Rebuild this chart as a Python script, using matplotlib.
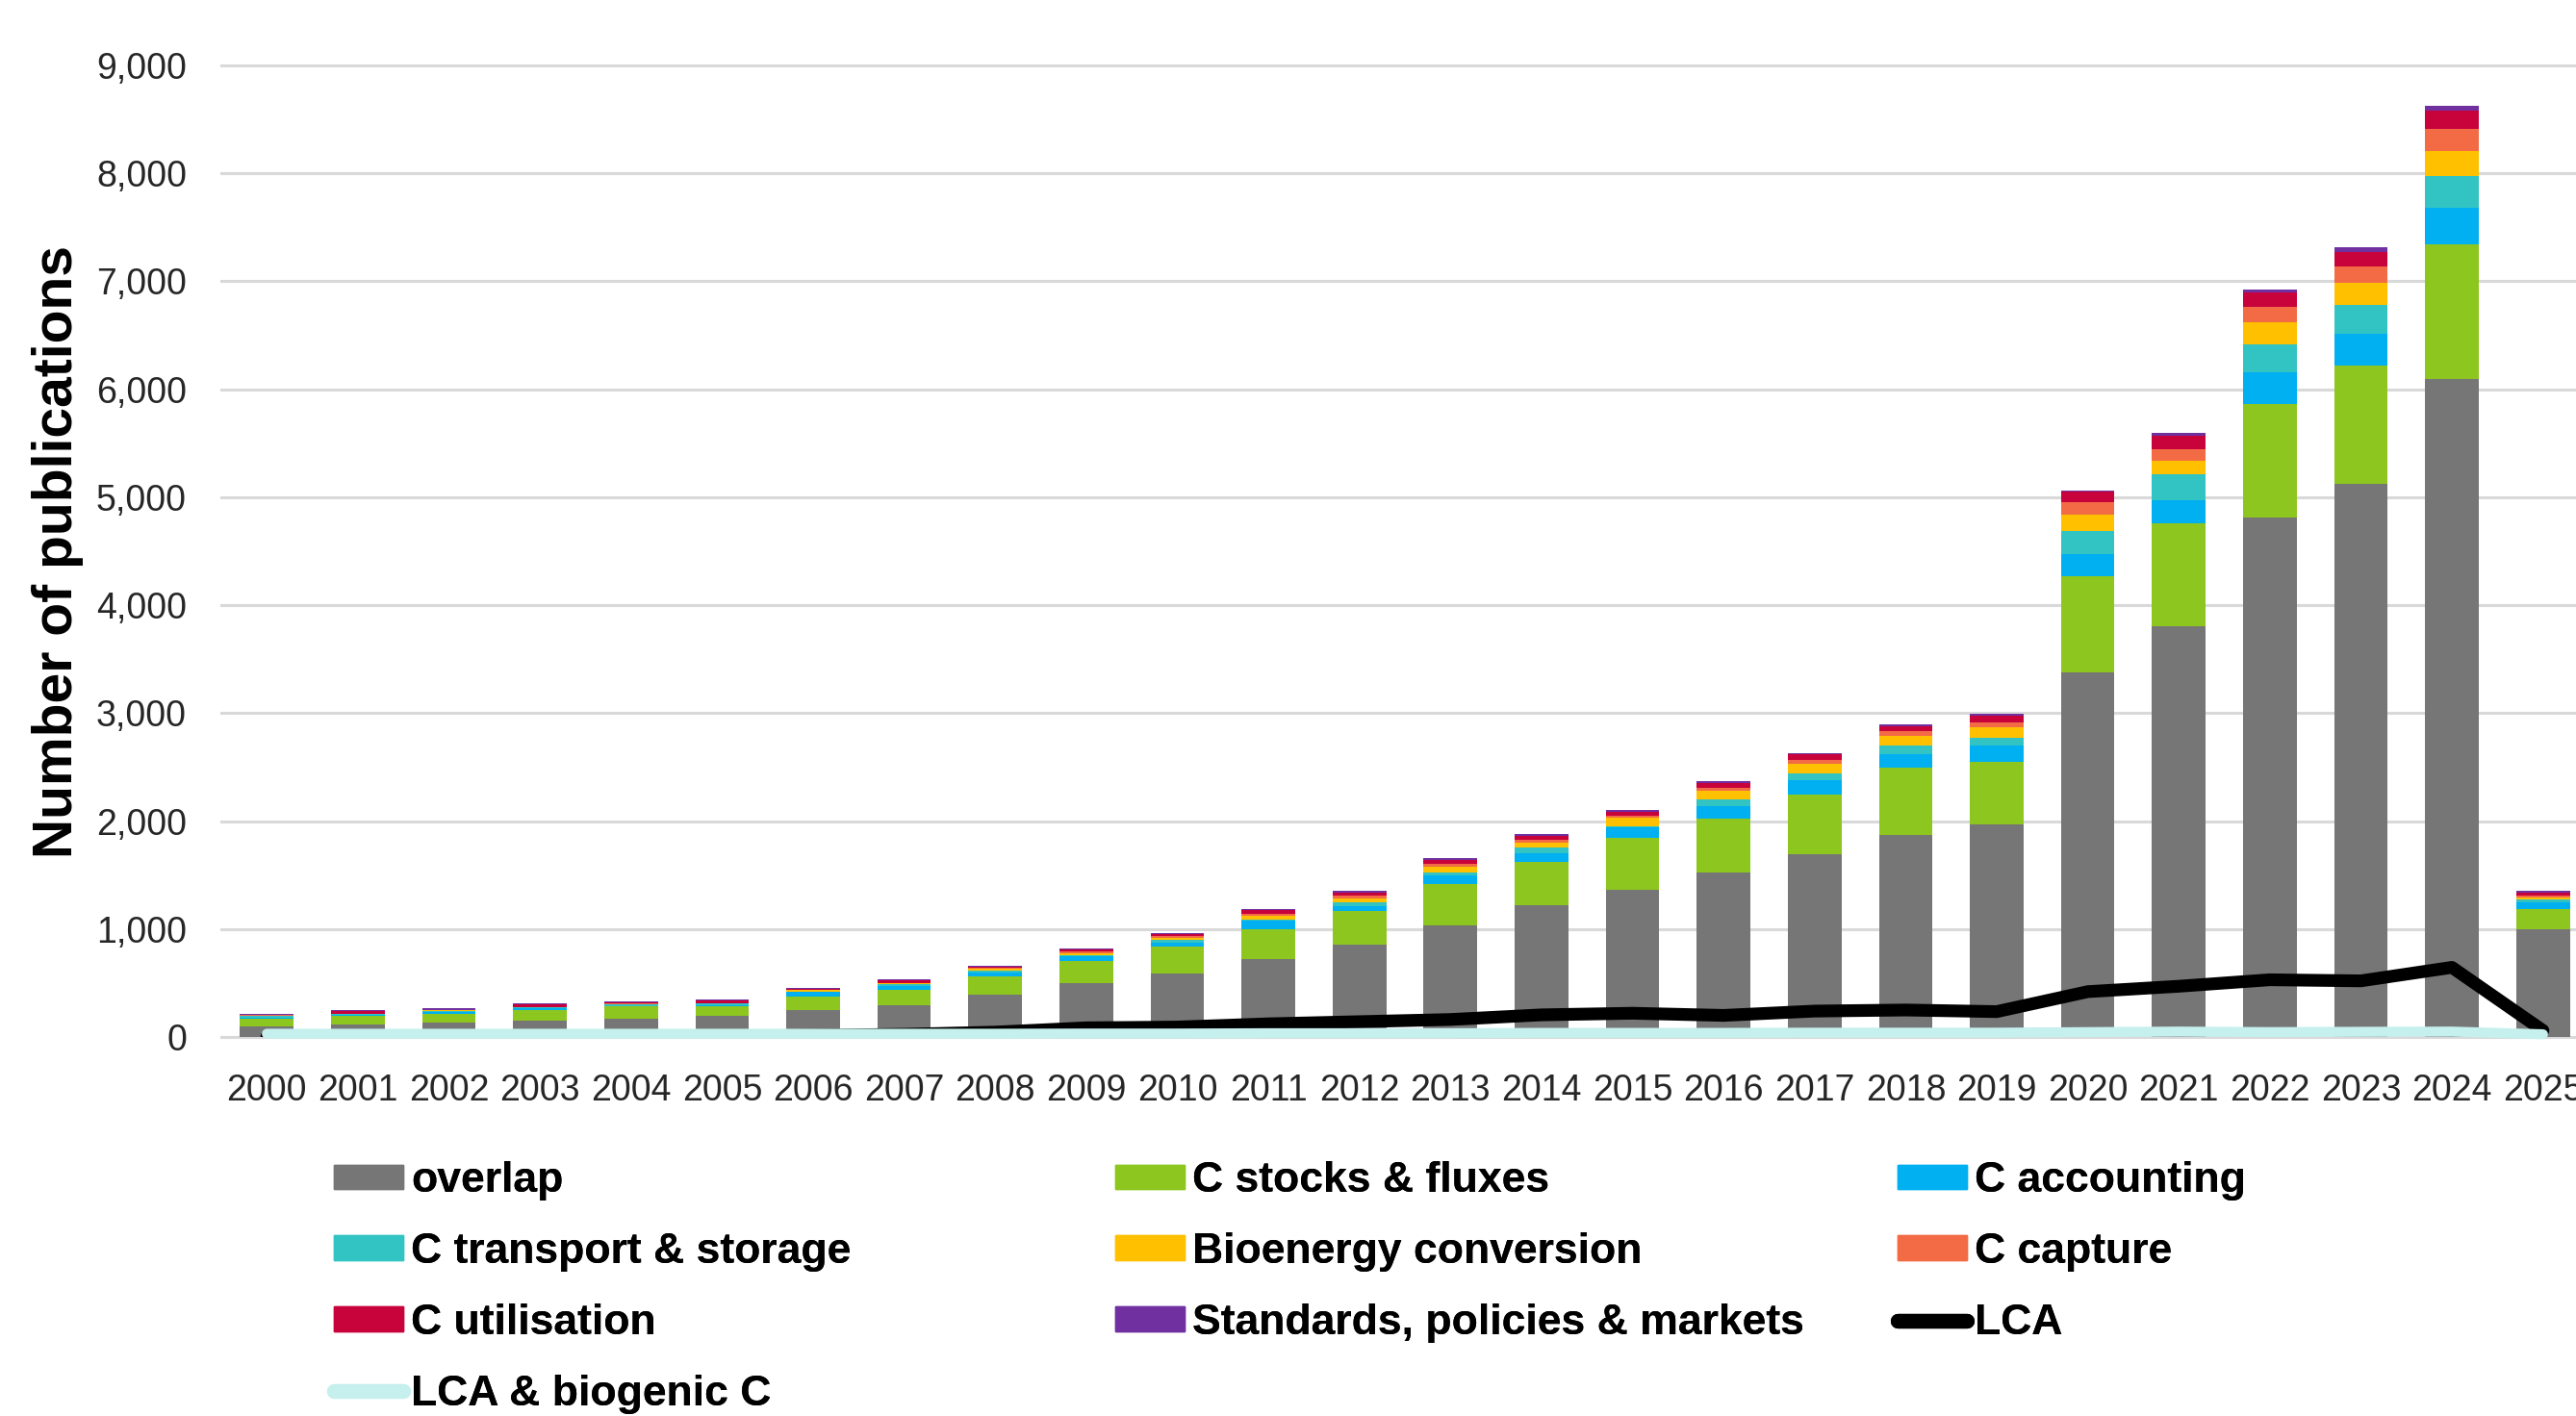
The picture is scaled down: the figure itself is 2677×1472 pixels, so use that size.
import numpy as np
import matplotlib.pyplot as plt
from matplotlib.patches import Patch
from matplotlib.lines import Line2D
from matplotlib.ticker import FuncFormatter

plt.rcParams['font.family'] = ['Liberation Sans', 'DejaVu Sans']

years = [str(y) for y in range(2000, 2026)]

overlap = [97, 118, 133, 151, 166, 198, 246, 293, 391, 500, 584, 726, 853, 1030, 1223,
           1365, 1523, 1689, 1872, 1972, 3381, 3801, 4809, 5128, 6093, 1002]
c_stocks = [69, 80, 83, 95, 115, 83, 130, 142, 172, 208, 254, 271, 315, 385, 400,
            481, 501, 556, 626, 576, 883, 958, 1058, 1096, 1252, 181]
c_accounting = [14, 6, 15, 20, 6, 15, 39, 39, 37, 41, 35, 83, 47, 81, 77,
                98, 112, 133, 126, 151, 207, 213, 288, 288, 338, 63]
c_transport = [12, 6, 14, 9, 12, 14, 8, 20, 12, 9, 30, 8, 36, 29, 51,
               11, 66, 63, 75, 75, 213, 238, 263, 269, 288, 25]
bioenergy = [6, 2, 2, 2, 3, 3, 12, 6, 24, 21, 14, 36, 35, 51, 47,
             78, 79, 94, 94, 94, 156, 125, 201, 207, 238, 19]
c_capture = [6, 1, 2, 1, 6, 3, 6, 3, 9, 12, 15, 21, 24, 26, 30,
             17, 30, 33, 44, 44, 113, 113, 144, 150, 207, 19]
c_utilisation = [3, 24, 3, 24, 9, 21, 6, 21, 6, 21, 21, 32, 29, 42, 38,
                 39, 42, 51, 37, 62, 100, 125, 131, 132, 169, 25]
standards = [9, 11, 12, 9, 9, 11, 9, 12, 12, 10, 12, 12, 12, 12, 12,
             12, 13, 12, 19, 19, 10, 25, 31, 44, 44, 19]

lca = [2, 2, 3, 4, 5, 8, 15, 25, 45, 85, 92, 122, 142, 162, 205,
       220, 200, 240, 250, 235, 420, 470, 530, 520, 645, 60]
lca_biogenic = [30, 30, 30, 30, 30, 30, 30, 30, 30, 32, 32, 35, 35, 35, 38,
                38, 38, 40, 40, 40, 45, 50, 45, 48, 50, 25]

series = [overlap, c_stocks, c_accounting, c_transport, bioenergy, c_capture, c_utilisation, standards]
labels = ["overlap", "C stocks & fluxes", "C accounting", "C transport & storage",
          "Bioenergy conversion", "C capture", "C utilisation", "Standards, policies & markets"]
colors = ["#767676", "#8DC61E", "#00B0F0", "#31C4C3", "#FFC000", "#F26B45", "#C8023B", "#7030A0"]

W, H = 2677, 1472
fig = plt.figure(figsize=(W / 100, H / 100), dpi=100)
ax = fig.add_axes([230 / W, 1 - 1078 / H, 2460 / W, (1078 - 68) / H])

x = np.arange(len(years))
bottom = np.zeros(len(years))
for vals, col, lab in zip(series, colors, labels):
    ax.bar(x, vals, 0.588, bottom=bottom, color=col, label=lab, zorder=2)
    bottom += np.array(vals)

ax.plot(x, lca, color="black", lw=9.5, solid_capstyle="round", solid_joinstyle="round",
        zorder=3)
ax.plot(x, lca_biogenic, color="#C5F0EE", lw=7.5, solid_capstyle="round",
        solid_joinstyle="round", zorder=4, clip_on=False)

ax.set_xlim(-0.5, 25.5)
ax.set_ylim(0, 9000)
ax.set_xticks(x)
ax.set_xticklabels(years)
ax.set_yticks(range(0, 9001, 1000))
ax.yaxis.set_major_formatter(FuncFormatter(lambda v, p: f"{int(v):,}"))
ax.grid(axis="y", color="#D9D9D9", lw=2.2, zorder=0)
ax.set_axisbelow(True)
for gl in ax.get_ygridlines():
    gl.set_clip_on(False)
for s in ax.spines.values():
    s.set_visible(False)
ax.tick_params(axis="y", length=0, labelsize=27, pad=26, labelcolor="#262626")
ax.tick_params(axis="x", length=0, labelsize=27, pad=27, labelcolor="#262626")

ax.set_ylabel("Number of publications", fontsize=41, fontweight="bold")
ax.yaxis.set_label_coords(-0.058, 0.5)

# legend in three columns, filled row by row like the original
line_lca = Line2D([], [], color="black", lw=11, solid_capstyle="round")
line_bio = Line2D([], [], color="#C5F0EE", lw=11, solid_capstyle="round")
patches = [Patch(color=c) for c in colors]
cols = [
    ([patches[0], patches[3], patches[6], line_bio], [labels[0], labels[3], labels[6], "LCA & biogenic C"], 347),
    ([patches[1], patches[4], patches[7]], [labels[1], labels[4], labels[7]], 1159),
    ([patches[2], patches[5], line_lca], [labels[2], labels[5], "LCA"], 1972),
]
for hs, ls, xpos in cols:
    leg = fig.legend(hs, ls, loc="upper left", bbox_to_anchor=(xpos / W, 1 - 1207 / H),
                     frameon=False, borderpad=0, borderaxespad=0,
                     prop={"size": 32, "weight": "bold"}, handlelength=1.62,
                     handleheight=0.5, handletextpad=0.18, labelspacing=0.74)
    fig.add_artist(leg)

fig.savefig("out.png", dpi=100)
